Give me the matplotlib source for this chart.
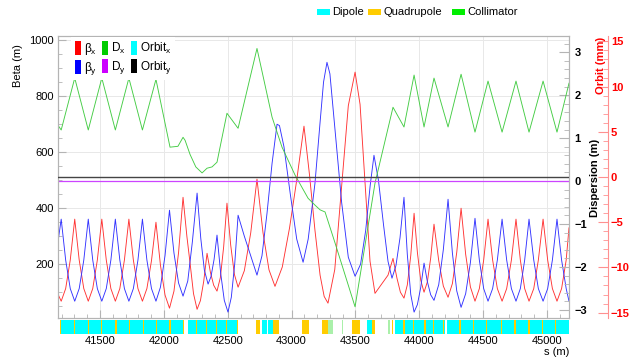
import matplotlib
matplotlib.use('Agg')
import matplotlib.pyplot as plt
from matplotlib.patches import Patch, Rectangle
from matplotlib.ticker import MultipleLocator

plt.rcParams['font.family'] = ['Liberation Sans', 'DejaVu Sans']
plt.rcParams['mathtext.fontset'] = 'custom'
plt.rcParams['mathtext.rm'] = 'Liberation Sans'
plt.rcParams['mathtext.it'] = 'Liberation Sans:italic'
plt.rcParams['mathtext.bf'] = 'Liberation Sans:bold'
plt.rcParams['axes.unicode_minus'] = True

# ---------------- data ----------------
betax_s = [41171, 41196, 41231, 41267, 41302, 41337, 41373, 41408, 41443, 41479, 41514, 41549, 41585,
           41620, 41655, 41691, 41726, 41761, 41797, 41832, 41867, 41903, 41938, 41973, 42009, 42044,
           42079, 42115, 42150, 42180, 42205, 42232, 42260, 42286, 42312, 42338, 42364, 42390, 42416,
           42442, 42468, 42494, 42523, 42552, 42581, 42630, 42680, 42729, 42776, 42823, 42870, 42927,
           42984, 43040, 43097, 43140, 43183, 43223, 43255, 43285, 43338, 43391, 43444, 43497, 43536,
           43575, 43614, 43653, 43755, 43794, 43825, 43852, 43880, 43906, 43933, 43959, 43985, 44011,
           44037, 44063, 44089, 44115, 44152, 44188, 44225, 44259, 44293, 44327, 44363, 44400, 44436,
           44470, 44504, 44538, 44574, 44611, 44648, 44684, 44721, 44757, 44791, 44825, 44859, 44896,
           44932, 44969, 45005, 45042, 45078, 45114, 45150, 45172]
betax = [93, 68, 113, 215, 361, 215, 113, 68, 113, 215, 361, 215, 113,
         68, 113, 215, 361, 215, 113, 68, 113, 213, 350, 197, 90, 43,
         104, 242, 439, 300, 204, 95, 39, 70, 139, 239, 172, 125, 104,
         152, 262, 418, 269, 164, 118, 177, 312, 504, 313, 180, 121, 190,
         330, 500, 693, 520, 321, 161, 85, 61, 181, 474, 766, 886, 771,
         491, 211, 96, 161, 221, 150, 100, 79, 126, 231, 382, 242, 143,
         100, 137, 222, 343, 213, 122, 82, 131, 242, 400, 235, 119, 68,
         113, 215, 361, 215, 113, 68, 113, 215, 361, 215, 113, 68, 113,
         215, 361, 215, 113, 68, 113, 215, 330]

betay_s = [41171, 41196, 41231, 41267, 41302, 41337, 41373, 41408, 41443, 41479, 41514, 41549, 41585,
           41620, 41655, 41691, 41726, 41761, 41797, 41832, 41867, 41903, 41938, 41973, 42009, 42044,
           42079, 42115, 42150, 42187, 42223, 42260, 42289, 42317, 42346, 42369, 42393, 42416, 42445,
           42473, 42502, 42528, 42555, 42581, 42630, 42680, 42729, 42768, 42807, 42847, 42886, 42905,
           42940, 42990, 43040, 43090, 43130, 43183, 43223, 43250, 43277, 43300, 43340, 43392, 43444,
           43497, 43540, 43580, 43615, 43645, 43680, 43720, 43755, 43786, 43817, 43849, 43880, 43906,
           43933, 43959, 43985, 44011, 44037, 44063, 44089, 44115, 44152, 44188, 44225, 44259, 44293,
           44327, 44363, 44400, 44436, 44470, 44504, 44538, 44574, 44611, 44648, 44684, 44721, 44757,
           44791, 44825, 44859, 44896, 44932, 44969, 45005, 45042, 45078, 45114, 45150, 45172]
betay = [280, 361, 215, 113, 68, 113, 215, 361, 215, 113, 68, 113, 215,
         361, 215, 113, 68, 113, 215, 361, 215, 113, 68, 118, 231, 393,
         240, 133, 86, 140, 280, 454, 292, 179, 129, 156, 217, 304, 167,
         71, 29, 82, 203, 375, 300, 230, 161, 230, 380, 560, 700, 695,
         620, 450, 290, 207, 290, 489, 707, 850, 921, 880, 680, 420, 225,
         157, 200, 320, 480, 589, 500, 340, 210, 150, 195, 295, 439, 235,
         92, 29, 56, 117, 204, 138, 91, 71, 127, 252, 432, 240, 105,
         46, 95, 206, 364, 215, 113, 68, 113, 215, 361, 215, 113, 68,
         113, 215, 361, 215, 113, 68, 113, 215, 361, 215, 113, 68]

dx_s = [41171, 41196, 41302, 41408, 41514, 41620, 41726, 41832, 41938, 42048, 42110, 42150, 42166,
        42205, 42250, 42299, 42338, 42377, 42416, 42494, 42581, 42729, 42847, 42925, 43027, 43129,
        43183, 43223, 43262, 43340, 43497, 43653, 43794, 43880, 43959, 44037, 44115, 44225, 44327,
        44436, 44538, 44648, 44757, 44859, 44969, 45078, 45172]
dx = [1.30, 1.19, 2.40, 1.19, 2.40, 1.19, 2.40, 1.19, 2.37, 0.79, 0.81, 1.02, 0.95,
      0.62, 0.33, 0.19, 0.30, 0.33, 0.44, 1.58, 1.23, 3.09, 1.49, 0.79, 0.14, -0.40,
      -0.56, -0.67, -0.72, -1.44, -2.93, -0.05, 1.72, 1.26, 2.47, 1.26, 2.40, 1.26, 2.49,
      1.14, 2.33, 1.14, 2.33, 1.14, 2.33, 1.14, 2.28]

dy_s = [41171, 45172]
dy = [0.0, 0.0]
orbit_s = [41171, 45172]
orbitx = [0.0, 0.0]
orbity = [0.0, 0.0]

# lattice elements (s in m)
dipole_start = [41187, 42190, 42766, 42813, 43593, 43810, 44219]
dipole_end = [42150, 42575, 42805, 42857, 43627, 44201, 45175]
quad_center = [41192, 41298, 41408, 41513, 41625, 41729, 41839, 41944, 42048, 42152, 42257, 42335,
               42413, 42492, 42575, 42737, 42880, 43108, 43262, 43503, 43640, 43790, 43880, 43953,
               44045, 44110, 44188, 44319, 44423, 44527, 44645, 44749, 44859, 44963, 45068]
quad_length = [9, 9, 9, 9, 9, 9, 9, 9, 9, 9, 9, 9,
               9, 9, 9, 32, 47, 59, 52, 65, 26, 12, 9, 9,
               9, 9, 9, 9, 9, 9, 9, 9, 9, 9, 9]
coll_center = [43307, 43399, 43764]
coll_length = [39, 8, 14]

xticks = [41500, 42000, 42500, 43000, 43500, 44000, 44500, 45000]
element_names = ['Dipole', 'Quadrupole', 'Collimator']
element_colors = ['#00ffff', '#ffcc00', '#00ee00']

# ---------------- figure ----------------
W, H = 636, 358
FS = 8
fig = plt.figure(figsize=(W / 100, H / 100), dpi=100)
L, R, T, B = 58, 569, 36, 318
ax = fig.add_axes([L / W, 1 - B / H, (R - L) / W, (B - T) / H])
ax2 = ax.twinx()
ax3 = ax.twinx()

xmin, xmax = 41171, 45172
frame_col = '#b4b4b4'

ax.plot(betax_s, betax, color='#ff3333', lw=0.65)
ax.plot(betay_s, betay, color='#3333ff', lw=0.65)
ax.set_xlim(xmin, xmax)
ax.set_ylim(8, 1015)
ax.xaxis.set_major_locator(MultipleLocator(500))
ax.xaxis.set_minor_locator(MultipleLocator(100))
ax.yaxis.set_major_locator(MultipleLocator(200))
ax.yaxis.set_minor_locator(MultipleLocator(50))
ax.tick_params(axis='x', which='both', direction='in', labelbottom=False, color=frame_col)
ax.tick_params(axis='x', which='major', length=6)
ax.tick_params(axis='x', which='minor', length=3)
ax.tick_params(axis='y', which='both', direction='in', color=frame_col, labelsize=FS, pad=3)
ax.tick_params(axis='y', which='major', length=6)
ax.tick_params(axis='y', which='minor', length=3)
ax.grid(True, which='major', color='#e8e8e8', lw=0.7)
ax.set_axisbelow(True)
for sp in ax.spines.values():
    sp.set_color(frame_col)

ax2.plot(dx_s, dx, color='#44cc44', lw=0.65)
ax2.plot(dy_s, dy, color='#cc44ff', lw=0.9)
ax2.set_ylim(-3.19, 3.38)
ax2.yaxis.set_major_locator(MultipleLocator(1))
ax2.yaxis.set_minor_locator(MultipleLocator(0.2))
ax2.tick_params(axis='y', which='both', direction='in', color=frame_col, labelsize=FS, pad=4)
ax2.tick_params(axis='y', which='major', length=7)
ax2.tick_params(axis='y', which='minor', length=3.5)
for lab in ax2.get_yticklabels():
    lab.set_fontweight('bold')
for sp in ax2.spines.values():
    sp.set_color(frame_col)

ax3.plot(orbit_s, orbitx, color='cyan', lw=0.4)
ax3.plot(orbit_s, orbity, color='#444444', lw=1.0)
ax3.set_ylim(-15.6, 15.6)
ax3.spines['right'].set_position(('axes', (608 - L) / (R - L)))
ax3.spines['right'].set_color('#ff9090')
for k in ['left', 'top', 'bottom']:
    ax3.spines[k].set_visible(False)
ax3.yaxis.set_major_locator(MultipleLocator(5))
ax3.yaxis.set_minor_locator(MultipleLocator(1))
ax3.tick_params(axis='y', which='both', direction='in', color='#ff9090', labelcolor='#ff0000',
                labelsize=FS, pad=2)
ax3.tick_params(axis='y', which='major', length=7)
ax3.tick_params(axis='y', which='minor', length=3.5)
for lab in ax3.get_yticklabels():
    lab.set_fontweight('bold')

# axis titles
fig.text(18 / W, 1 - 44 / H, 'Beta (m)', rotation=90, ha='center', va='top', fontsize=FS)
fig.text(595 / W, 1 - 178 / H, 'Dispersion (m)', rotation=90, ha='center', va='center',
         fontsize=FS, fontweight='bold')
fig.text(601 / W, 1 - 37 / H, 'Orbit (mm)', rotation=90, ha='center', va='top',
         fontsize=FS, fontweight='bold', color='#ff0000')

# inner legend
handles = [Patch(facecolor='#ff0000', edgecolor='none'), Patch(facecolor='#0000ff', edgecolor='none'),
           Patch(facecolor='#00cc00', edgecolor='none'), Patch(facecolor='#cc00ff', edgecolor='none'),
           Patch(facecolor='#00ffff', edgecolor='none'), Patch(facecolor='#000000', edgecolor='none')]
labels = [r'$\mathrm{\beta_{x}}$', r'$\mathrm{\beta_{y}}$', r'$\mathrm{D_{x}}$', r'$\mathrm{D_{y}}$',
          r'$\mathrm{Orbit_{x}}$', r'$\mathrm{Orbit_{y}}$']
leg = ax3.legend(handles, labels, ncol=3, loc='upper left', bbox_to_anchor=(0.026, 0.995),
                 fontsize=8.5, frameon=True, framealpha=1, facecolor='white', edgecolor='none',
                 handlelength=0.55, handleheight=1.4, handletextpad=0.2, columnspacing=0.45,
                 borderpad=0.3, labelspacing=0.25, borderaxespad=0, fancybox=False)

# element legend (top)
sw_x = [317, 368, 452]
for x0, name, col in zip(sw_x, element_names, element_colors):
    fig.patches.append(Rectangle((x0 / W, 1 - 14.5 / H), 13 / W, 5 / H, transform=fig.transFigure,
                                 facecolor=col, edgecolor='none'))
    fig.text((x0 + 15) / W, 1 - 12 / H, name, ha='left', va='center', fontsize=FS)

# element strip
axs = fig.add_axes([L / W, 1 - 334 / H, (R - L) / W, 14 / H])
axs.set_xlim(xmin, xmax)
axs.set_ylim(0, 1)
d_w = [e - s for s, e in zip(dipole_start, dipole_end)]
axs.bar(dipole_start, 1, width=d_w, align='edge', color=element_colors[0], linewidth=0)
axs.bar(quad_center, 1, width=quad_length, align='center', color=element_colors[1], linewidth=0)
axs.bar(coll_center, 1, width=coll_length, align='center', color='#aaf0aa', linewidth=0)
for sp in axs.spines.values():
    sp.set_visible(False)
axs.set_yticks([])
axs.set_xticks(xticks)
axs.set_xticklabels([str(v) for v in xticks])
axs.tick_params(axis='x', length=0, labelsize=FS, pad=1.5)

fig.text(569 / W, 1 - 357 / H, 's (m)', ha='right', va='bottom', fontsize=FS)

fig.savefig('out.png', dpi=100)
